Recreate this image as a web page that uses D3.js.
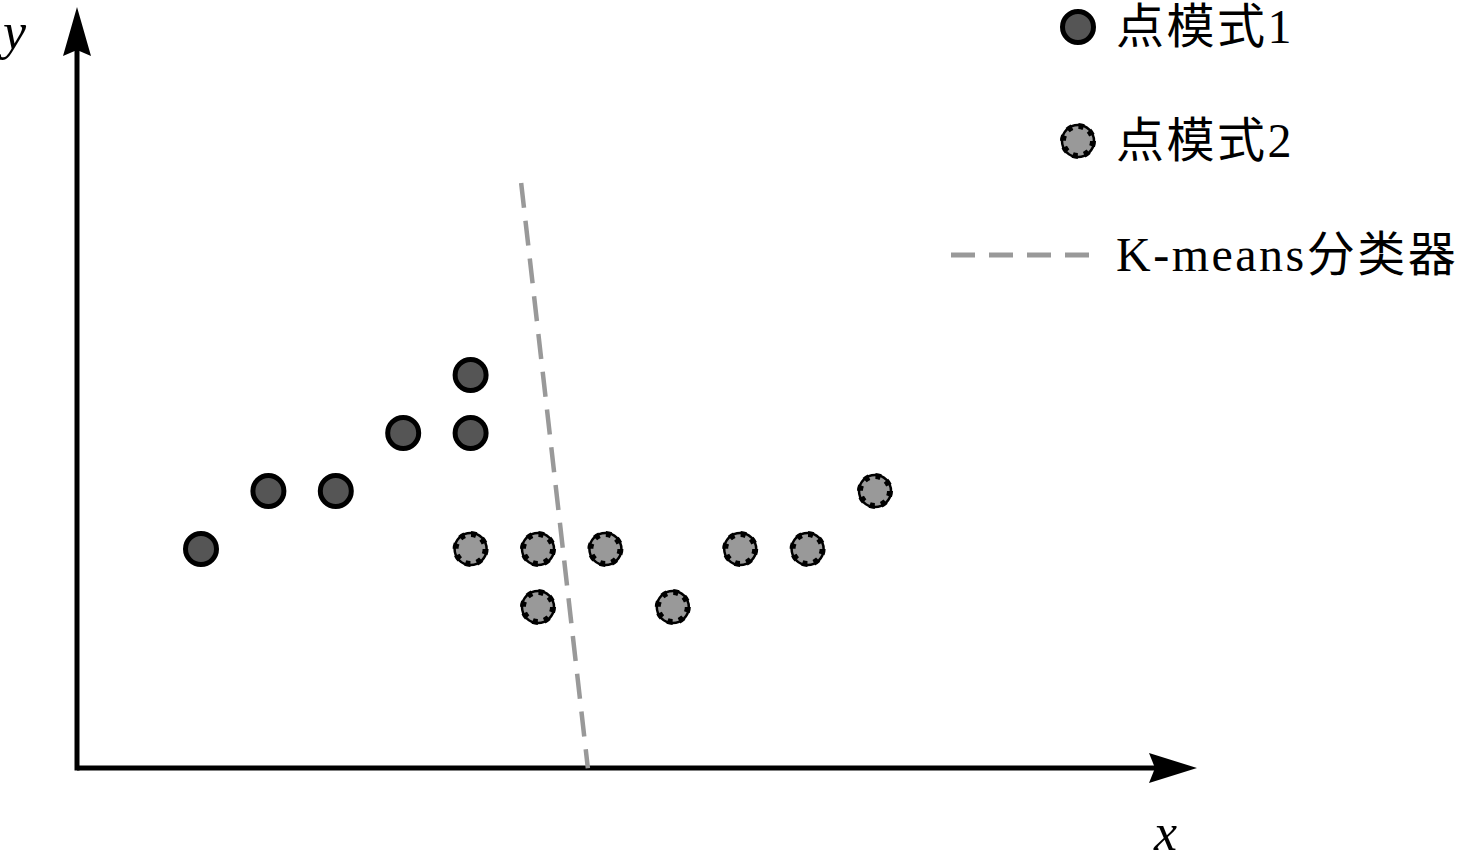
<!DOCTYPE html>
<html>
<head>
<meta charset="utf-8">
<script src="https://cdn.jsdelivr.net/npm/d3@7"></script>
<style>
  body { margin: 0; background: #fff; }
  text { font-family: "Liberation Serif", "Noto Sans CJK SC", serif; }
</style>
</head>
<body>
<div id="chart"></div>
<script>
// point data (grid units)
const pattern1X = [1, 2, 3, 4, 5, 5];
const pattern1Y = [2, 3, 3, 4, 4, 5];
const pattern2X = [5, 6, 7, 6, 8, 9, 10, 11];
const pattern2Y = [2, 2, 2, 1, 1, 2, 2, 3];
// K-means separating line, two ends
const classifierX = [5.75, 6.74];
const classifierY = [8.31, -1.78];
const legendLabels = ["点模式1", "点模式2", "K-means分类器"];
const axisLabels = ["x", "y"];

const W = 1466, H = 864;
const origin = { x: 77, y: 768 };
const xEnd = 1197, yEnd = 7;

const svg = d3.select("#chart").append("svg")
	.attr("width", W)
	.attr("height", H);

const x = d3.scaleLinear().domain([1, 11]).range([201, 875]);
const y = d3.scaleLinear().domain([1, 5]).range([607, 375]);

//axes
svg.append("line")
	.attr("x1", origin.x).attr("y1", origin.y)
	.attr("x2", xEnd - 30).attr("y2", origin.y)
	.attr("stroke", "black").attr("stroke-width", 5);
svg.append("line")
	.attr("x1", origin.x).attr("y1", origin.y + 2.5)
	.attr("x2", origin.x).attr("y2", yEnd + 30)
	.attr("stroke", "black").attr("stroke-width", 5);

// arrow heads
svg.append("path")
	.attr("d", `M${xEnd},${origin.y} L${xEnd - 48},${origin.y - 15} L${xEnd - 42},${origin.y} L${xEnd - 48},${origin.y + 15} Z`)
	.attr("fill", "black");
svg.append("path")
	.attr("d", `M${origin.x},${yEnd} L${origin.x - 14},${yEnd + 49} L${origin.x},${yEnd + 43} L${origin.x + 14},${yEnd + 49} Z`)
	.attr("fill", "black");

svg.append("text")
	.attr("x", 1154).attr("y", 850)
	.style("font-style", "italic")
	.style("font-size", "52px")
	.text(axisLabels[0]);
svg.append("text")
	.attr("x", 3).attr("y", 49)
	.style("font-style", "italic")
	.style("font-size", "52px")
	.text(axisLabels[1]);

//classifier line
const classifier = classifierX.map((d, i) => ({ x: d, y: classifierY[i] }));
const lineFn = d3.line().x(d => x(d.x)).y(d => y(d.y));
svg.append("path")
	.attr("d", lineFn(classifier))
	.attr("stroke", "#999")
	.attr("stroke-width", 4.5)
	.attr("stroke-dasharray", "25,13")
	.attr("fill", "none");

// point styles
function drawDark(sel) {
	sel.attr("r", 15.5)
		.attr("fill", "#555")
		.attr("stroke", "black")
		.attr("stroke-width", 5);
}
function drawDotted(g, cx, cy) {
	g.append("circle")
		.attr("cx", cx).attr("cy", cy).attr("r", 16)
		.attr("fill", "#999")
		.attr("stroke", "black")
		.attr("stroke-width", 2.5);
	g.append("circle")
		.attr("cx", cx).attr("cy", cy).attr("r", 15)
		.attr("fill", "none")
		.attr("stroke", "black")
		.attr("stroke-width", 6)
		.attr("stroke-dasharray", (2 * Math.PI * 15 / 8 * 0.45) + "," + (2 * Math.PI * 15 / 8 * 0.55));
}

const pts1 = pattern1X.map((d, i) => ({ x: d, y: pattern1Y[i] }));
const pts2 = pattern2X.map((d, i) => ({ x: d, y: pattern2Y[i] }));

svg.selectAll("circle.p1")
	.data(pts1)
	.enter()
	.append("circle")
	.attr("class", "p1")
	.attr("cx", d => x(d.x))
	.attr("cy", d => y(d.y))
	.call(drawDark);

const g2 = svg.append("g");
pts2.forEach(d => drawDotted(g2, x(d.x), y(d.y)));

//legend
const legendTop = 27, legendStep = 114;
const lg = svg.append("g");
lg.append("circle").attr("cx", 1078).attr("cy", legendTop).call(drawDark);
drawDotted(lg, 1078, legendTop + legendStep);
lg.append("line")
	.attr("x1", 951).attr("x2", 1089)
	.attr("y1", legendTop + legendStep * 2).attr("y2", legendTop + legendStep * 2)
	.attr("stroke", "#999")
	.attr("stroke-width", 5)
	.attr("stroke-dasharray", "24,14");

lg.selectAll("text")
	.data(legendLabels)
	.enter()
	.append("text")
	.attr("x", 1116)
	.attr("y", (d, i) => legendTop + 16 + i * legendStep)
	.style("font-size", "48px")
	.style("letter-spacing", "2.5px")
	.text(d => d);
</script>
</body>
</html>
